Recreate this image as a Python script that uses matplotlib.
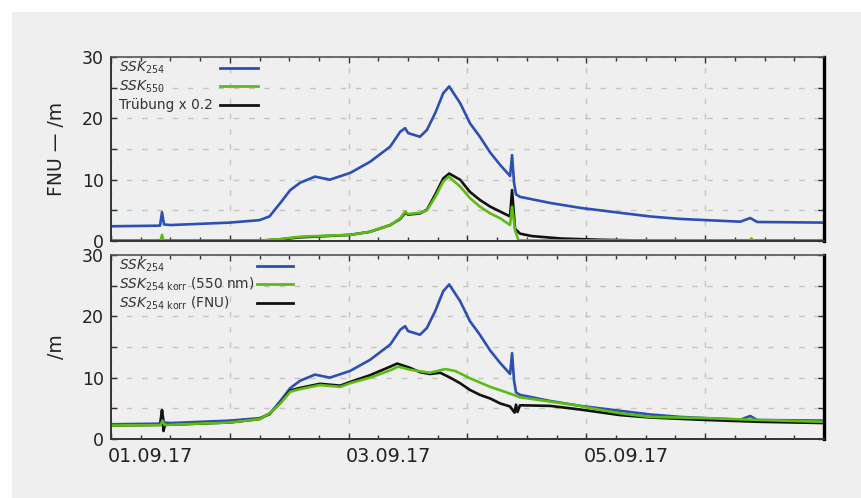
import matplotlib.pyplot as plt
import matplotlib.transforms as mtransforms
from matplotlib.patches import Rectangle
from matplotlib.ticker import MultipleLocator
import numpy as np

# hours since 01.09.17 00:00
ssk254_t = [0, 9.9, 10.3, 10.7, 12, 24, 30, 32, 34.2, 36.2, 38.2, 41.2, 44.2, 48.3,
            52.3, 56.4, 58.4, 59.4, 60, 62.4, 63.8, 65.5, 67.1, 68.3, 70.5, 72.5,
            74.5, 76.6, 78.6, 80.6, 81.0, 81.4, 81.8, 82.6, 88.7, 94.8, 98.8,
            102.8, 108.9, 115, 120.2, 127.1, 129.1, 130.5, 144]
ssk254 = [2.4, 2.5, 4.7, 2.7, 2.6, 3.0, 3.4, 4.0, 6.2, 8.3, 9.5, 10.5, 10.0, 11.1,
          12.9, 15.4, 17.8, 18.4, 17.6, 17.0, 18.1, 20.9, 24.1, 25.2, 22.5, 19.2,
          17.0, 14.4, 12.4, 10.6, 14.0, 9.5, 7.6, 7.2, 6.2, 5.4, 5.0,
          4.6, 4.0, 3.6, 3.4, 3.15, 3.75, 3.1, 3.0]

ssk550_t = [0, 10.0, 10.3, 10.6, 30, 34, 38.2, 48.3, 52.3, 56.4, 58.4, 59.4, 60,
            62.4, 63.8, 65.5, 67.1, 68.2, 70.5, 72.5, 74.5, 76.6, 78.6, 80.6, 81.0,
            81.6, 82.3, 129, 129.3, 129.8, 144]
ssk550 = [0.05, 0.05, 1.0, 0.05, 0.05, 0.3, 0.7, 1.0, 1.5, 2.6, 3.7, 4.8, 4.4,
          4.6, 5.0, 7.2, 9.7, 10.5, 8.9, 7.0, 5.6, 4.5, 3.7, 2.6, 5.6,
          1.8, 0.1, 0.05, 0.4, 0.05, 0.05]

truebung_t = [0, 30, 34, 38.2, 48.3, 52.3, 56.4, 58.4, 59.4, 60, 62.4, 63.8, 65.5,
              67.1, 68.3, 70.5, 72.5, 74.5, 76.6, 78.6, 80.6, 81.0, 81.6, 82.6,
              85, 91, 99, 109, 144]
truebung02 = [0.05, 0.05, 0.25, 0.6, 1.0, 1.5, 2.6, 3.6, 4.6, 4.3, 4.5, 5.1, 7.6,
              10.2, 11.0, 10.0, 8.0, 6.7, 5.6, 4.8, 4.0, 8.3, 2.0, 1.2,
              0.8, 0.4, 0.2, 0.05, 0.05]

korr550_t = [0, 10.0, 10.4, 10.8, 24, 30, 32.1, 34.2, 36.2, 38, 42.2, 46.3, 48.3,
             52.3, 56.4, 58, 60.4, 64.4, 67.5, 69.5, 72.5, 76.6, 80.6, 82.6, 88.7,
             94.8, 96, 102.8, 108.9, 120.2, 131.1, 144]
korr550 = [2.2, 2.3, 3.0, 2.3, 2.7, 3.25, 4.2, 5.8, 7.7, 8.1, 8.8, 8.5, 9.1,
           10.0, 11.2, 11.8, 11.3, 10.8, 11.4, 11.1, 9.9, 8.5, 7.4, 6.8, 6.1,
           5.4, 5.15, 4.2, 3.6, 3.4, 3.1, 2.8]

korrfnu_t = [0, 10.0, 10.3, 10.6, 10.9, 24, 30, 32.1, 34.2, 36.2, 38, 42.2, 46.3,
             48.3, 52.3, 56.4, 57.8, 60.4, 62.4, 64.4, 66.5, 68.5, 70.5, 72.5,
             74.5, 76.6, 78.6, 80.6, 81.5, 81.8, 82.1, 82.6, 88.7, 94.8, 102.8,
             108.9, 120.2, 131.1, 144]
korrfnu = [2.2, 2.3, 4.7, 1.3, 2.3, 2.7, 3.25, 4.2, 5.9, 7.9, 8.3, 9.0, 8.7,
           9.3, 10.4, 11.8, 12.3, 11.6, 10.9, 10.6, 10.8, 10.0, 9.1, 8.0,
           7.2, 6.6, 5.8, 5.3, 4.3, 5.6, 4.4, 5.5, 5.4, 4.8, 3.9,
           3.5, 3.1, 2.8, 2.6]

day_ticks = [0, 24, 48, 72, 96, 120, 144]
day_labels = ['01.09.17', '', '03.09.17', '', '05.09.17', '', '']
y_ticks = [0, 5, 10, 15, 20, 25, 30]
y_labels = ['0', '', '10', '', '20', '', '30']

blue = '#2e4fb2'
green = '#5cbc14'
black = '#111111'
bg = '#efefef'

fig = plt.figure(figsize=(8.61, 4.98), dpi=100, facecolor='white')
fig.patches.append(Rectangle((12 / 861, 0), 1, 1 - 12 / 498, transform=fig.transFigure,
                             facecolor=bg, edgecolor='none', zorder=-10))

ax1 = fig.add_axes([111 / 861, 1 - 241 / 498, 713 / 861, 184 / 498])
ax2 = fig.add_axes([111 / 861, 1 - 439 / 498, 713 / 861, 184 / 498])

ax1.plot(ssk254_t, ssk254, color=blue, lw=1.9)
ax1.plot(truebung_t, truebung02, color=black, lw=1.9)
ax1.plot(ssk550_t, ssk550, color=green, lw=1.9)

ax2.plot(ssk254_t, ssk254, color=blue, lw=1.9)
ax2.plot(korrfnu_t, korrfnu, color=black, lw=1.9)
ax2.plot(korr550_t, korr550, color=green, lw=1.9)

legends = [
    (ax1, [(r'$SSK_{254}$', blue), (r'$SSK_{550}$', green), ('Trübung x 0.2', black)],
     0.153, 0.206),
    (ax2, [(r'$SSK_{254}$', blue), (r'$SSK_{254\ \mathrm{korr}}$ (550 nm)', green),
           (r'$SSK_{254\ \mathrm{korr}}$ (FNU)', black)],
     0.205, 0.255),
]
for ax, rows, h0, h1 in legends:
    for i, (lab, c) in enumerate(rows):
        yy = 0.94 - i * 0.1
        ax.text(0.011, yy, lab, transform=ax.transAxes, va='center', ha='left',
                fontsize=9.8, color='#333333')
        ax.plot([h0, h1], [yy, yy], transform=ax.transAxes, color=c, lw=2)

for ax in (ax1, ax2):
    ax.set_facecolor('none')
    ax.set_xlim(0, 144)
    ax.set_ylim(0, 30)
    ax.set_xticks(day_ticks)
    ax.xaxis.set_minor_locator(MultipleLocator(6))
    ax.set_yticks(y_ticks)
    ax.set_yticklabels(y_labels)
    ax.grid(True, which='major', color='#c4c4c4', lw=1, dashes=(4, 7))
    ax.tick_params(which='both', direction='in', top=True, right=True,
                   colors='#333333', labelcolor='#222222', labelsize=12.5)
    ax.tick_params(which='major', length=4, width=1)
    ax.tick_params(which='minor', length=3, width=1)
    ax.tick_params(axis='y', pad=5)
    for side in ('left', 'bottom'):
        ax.spines[side].set_color('#333333')
        ax.spines[side].set_linewidth(1.4)
    ax.spines['top'].set_color('#555555')
    ax.spines['top'].set_linewidth(1.2)
    ax.spines['right'].set_color('black')
    ax.spines['right'].set_linewidth(2.4)
    ax.yaxis.set_label_coords(-45 / 713, 0.5)

ax1.set_xticklabels([''] * len(day_ticks))
ax2.set_xticklabels(day_labels)
ax2.tick_params(axis='x', pad=6, labelsize=13.8)
offset = mtransforms.ScaledTranslation(-3 / 100, 0, fig.dpi_scale_trans)
for lbl in ax2.get_xticklabels():
    lbl.set_horizontalalignment('left')
    lbl.set_transform(lbl.get_transform() + offset)

ax1.set_ylabel('FNU — /m', fontsize=13.5, color='#222222')
ax2.set_ylabel('/m', fontsize=13.5, color='#222222')

fig.savefig('out.png', dpi=100, facecolor=fig.get_facecolor())
